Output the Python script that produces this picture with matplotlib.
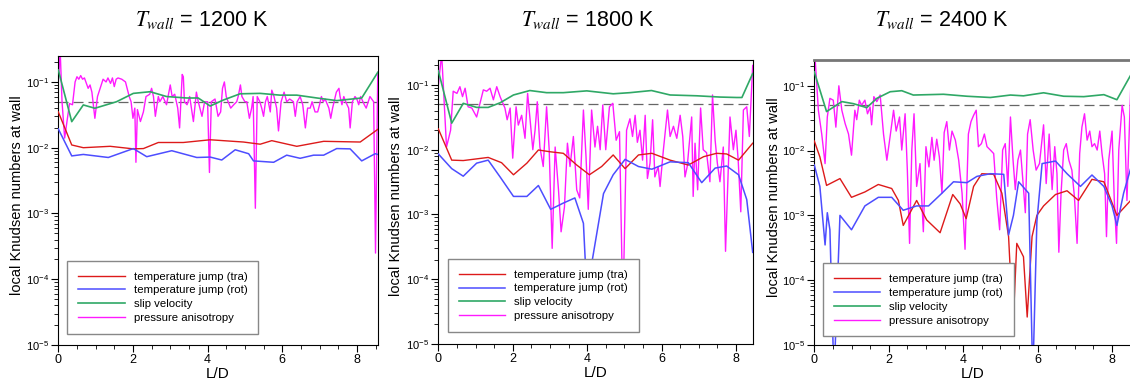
import numpy as np
import matplotlib
matplotlib.use('Agg')
import matplotlib.pyplot as plt
from matplotlib.ticker import LogLocator, MultipleLocator

plt.rcParams['font.family'] = ['Liberation Sans', 'DejaVu Sans']
plt.rcParams['mathtext.fontset'] = 'stix'

# ---- T_wall = 1200 K ----
tra_x_1200 = [0.0, 0.36, 0.67, 1.39, 2.01, 2.28, 2.68, 3.35, 4.07, 4.96, 5.41, 5.72, 6.39, 7.11, 8.09, 8.56]
tra_y_1200 = [0.035, 0.011, 0.010, 0.0105, 0.0096, 0.0097, 0.012, 0.012, 0.0132, 0.0122, 0.0113, 0.0128, 0.0105, 0.0125, 0.0122, 0.019]
rot_x_1200 = [0.0, 0.36, 0.67, 1.34, 2.01, 2.37, 3.04, 3.71, 4.07, 4.38, 4.74, 5.10, 5.23, 5.77, 6.12, 6.48, 6.84, 7.11, 7.46, 7.82, 8.13, 8.49, 8.56]
rot_y_1200 = [0.0193, 0.0075, 0.0079, 0.0071, 0.0097, 0.0073, 0.009, 0.0071, 0.0072, 0.0065, 0.0093, 0.0081, 0.0063, 0.006, 0.0077, 0.0069, 0.0077, 0.0077, 0.0097, 0.0096, 0.0063, 0.0081, 0.0079]
slip_x_1200 = [0.0, 0.36, 0.67, 0.98, 1.56, 2.01, 2.46, 2.9, 3.44, 3.75, 4.07, 4.42, 4.87, 5.41, 5.94, 6.39, 6.93, 7.46, 8.13, 8.56]
slip_y_1200 = [0.152, 0.0249, 0.0447, 0.0398, 0.050, 0.067, 0.071, 0.060, 0.057, 0.057, 0.043, 0.053, 0.066, 0.067, 0.063, 0.063, 0.057, 0.052, 0.057, 0.14]
aniso_x_1200 = [0.0, 0.05, 0.1, 0.17, 0.3, 0.38, 0.45, 0.5, 0.55, 0.6, 0.65, 0.7, 0.8, 0.85, 0.9, 0.98,
                1.05, 1.15, 1.2, 1.28, 1.33, 1.4, 1.45, 1.5, 1.55, 1.6, 1.7, 1.8, 1.9, 1.95, 2.0, 2.05,
                2.08, 2.12, 2.2, 2.28, 2.35, 2.45, 2.5, 2.55, 2.6, 2.68, 2.72, 2.8, 2.9, 3.0, 3.05, 3.12,
                3.2, 3.25, 3.32, 3.35, 3.38, 3.45, 3.52, 3.58, 3.62, 3.7, 3.75, 3.85, 3.92, 4.0, 4.05, 4.1,
                4.2, 4.28, 4.35, 4.4, 4.45, 4.5, 4.55, 4.62, 4.7, 4.78, 4.82, 4.88, 4.92, 5.0, 5.05, 5.12,
                5.18, 5.22, 5.28, 5.33, 5.4, 5.45, 5.5, 5.55, 5.6, 5.68, 5.72, 5.78, 5.85, 5.9, 5.97, 6.05,
                6.12, 6.2, 6.3, 6.35, 6.4, 6.48, 6.55, 6.62, 6.68, 6.75, 6.8, 6.88, 6.95, 7.0, 7.05, 7.1,
                7.15, 7.25, 7.3, 7.35, 7.45, 7.52, 7.55, 7.6, 7.65, 7.7, 7.78, 7.82, 7.88, 7.95, 8.0, 8.05,
                8.1, 8.2, 8.25, 8.35, 8.45, 8.5, 8.56]
aniso_y_1200 = [0.1, 0.3, 0.05, 0.014, 0.047, 0.045, 0.1, 0.12, 0.11, 0.125, 0.11, 0.115, 0.08, 0.09, 0.07, 0.028,
                0.06, 0.09, 0.11, 0.1, 0.115, 0.095, 0.115, 0.085, 0.11, 0.115, 0.11, 0.1, 0.06, 0.05, 0.028, 0.04,
                0.006, 0.038, 0.025, 0.035, 0.06, 0.065, 0.08, 0.06, 0.03, 0.06, 0.05, 0.06, 0.045, 0.09, 0.06, 0.065,
                0.04, 0.02, 0.13, 0.12, 0.05, 0.045, 0.06, 0.035, 0.025, 0.07, 0.05, 0.03, 0.05, 0.05, 0.0042, 0.05,
                0.055, 0.03, 0.035, 0.08, 0.1, 0.06, 0.05, 0.04, 0.045, 0.05, 0.06, 0.09, 0.06, 0.05, 0.05, 0.028,
                0.04, 0.06, 0.0012, 0.06, 0.05, 0.04, 0.03, 0.05, 0.06, 0.035, 0.075, 0.06, 0.04, 0.018, 0.05, 0.07,
                0.05, 0.055, 0.05, 0.03, 0.05, 0.06, 0.045, 0.02, 0.04, 0.04, 0.05, 0.035, 0.035, 0.045, 0.06, 0.05,
                0.055, 0.04, 0.028, 0.04, 0.07, 0.08, 0.06, 0.045, 0.06, 0.05, 0.04, 0.02, 0.05, 0.06, 0.055, 0.045,
                0.06, 0.045, 0.04, 0.06, 0.05, 0.00025, 0.14]

# ---- T_wall = 1800 K ----
tra_x_1800 = [0.0, 0.36, 0.67, 1.34, 1.7, 2.02, 2.38, 2.69, 3.0, 3.36, 3.72, 4.06, 4.39, 4.7, 5.02, 5.38, 5.74, 6.23, 6.72, 7.13, 7.48, 7.75, 8.07, 8.45]
tra_y_1800 = [0.021, 0.0069, 0.0068, 0.0076, 0.0063, 0.0041, 0.0062, 0.0099, 0.0093, 0.0088, 0.0058, 0.0041, 0.0055, 0.0083, 0.0051, 0.0083, 0.0088, 0.0069, 0.0058, 0.0078, 0.0088, 0.0086, 0.0069, 0.0126]
rot_x_1800 = [0.0, 0.36, 0.67, 1.03, 1.34, 1.66, 2.02, 2.38, 2.69, 3.02, 3.36, 3.67, 3.9, 4.0, 4.06, 4.14, 4.44, 4.7, 5.02, 5.38, 5.74, 6.23, 6.72, 7.08, 7.44, 7.75, 8.07, 8.29, 8.45]
rot_y_1800 = [0.0086, 0.0051, 0.0039, 0.0062, 0.0069, 0.0038, 0.0019, 0.0019, 0.0028, 0.0012, 0.0015, 0.0018, 0.00073, 0.00005, 0.00003, 0.0002, 0.0021, 0.0041, 0.0071, 0.0055, 0.005, 0.0065, 0.0063, 0.0031, 0.0052, 0.0056, 0.0041, 0.0017, 0.00026]
slip_x_1800 = [0.0, 0.36, 0.67, 1.03, 1.34, 1.66, 2.02, 2.46, 2.91, 3.36, 3.99, 4.7, 5.15, 5.73, 6.23, 6.95, 7.57, 8.02, 8.16, 8.45]
slip_y_1800 = [0.166, 0.0257, 0.052, 0.045, 0.045, 0.053, 0.070, 0.082, 0.076, 0.076, 0.081, 0.073, 0.076, 0.082, 0.070, 0.068, 0.065, 0.064, 0.064, 0.15]
aniso_x_1800 = [0.0, 0.09, 0.22, 0.33, 0.4, 0.5, 0.58, 0.65, 0.72, 0.8, 0.9, 1.03, 1.12, 1.21, 1.3, 1.39,
                1.48, 1.57, 1.66, 1.79, 1.85, 1.93, 2.0, 2.09, 2.15, 2.24, 2.33, 2.4, 2.46, 2.54, 2.6, 2.66,
                2.73, 2.82, 2.91, 2.98, 3.06, 3.14, 3.23, 3.3, 3.39, 3.47, 3.54, 3.63, 3.72, 3.8, 3.9, 3.97,
                4.03, 4.12, 4.21, 4.28, 4.35, 4.42, 4.5, 4.6, 4.69, 4.78, 4.87, 4.96, 5.06, 5.15, 5.22, 5.29,
                5.35, 5.42, 5.49, 5.56, 5.62, 5.69, 5.76, 5.82, 5.91, 5.96, 6.05, 6.16, 6.23, 6.32, 6.41, 6.5,
                6.57, 6.63, 6.69, 6.81, 6.85, 6.9, 6.97, 7.05, 7.12, 7.21, 7.3, 7.37, 7.44, 7.5, 7.57, 7.66,
                7.72, 7.84, 7.93, 8.0, 8.06, 8.13, 8.2, 8.29, 8.36, 8.45]
aniso_y_1800 = [0.1, 0.3, 0.011, 0.02, 0.08, 0.074, 0.094, 0.066, 0.089, 0.046, 0.044, 0.032, 0.052, 0.084, 0.08, 0.089,
                0.059, 0.094, 0.066, 0.044, 0.029, 0.044, 0.0074, 0.046, 0.024, 0.034, 0.015, 0.074, 0.032, 0.01, 0.02, 0.055,
                0.011, 0.0055, 0.046, 0.01, 0.0003, 0.011, 0.0024, 0.00054, 0.0013, 0.0126, 0.0055, 0.016, 0.0024, 0.0018, 0.041, 0.0078,
                0.0012, 0.041, 0.011, 0.023, 0.01, 0.049, 0.01, 0.046, 0.052, 0.014, 0.019, 0.00003, 0.02, 0.03, 0.016, 0.034,
                0.013, 0.02, 0.0069, 0.034, 0.0036, 0.0062, 0.029, 0.0038, 0.0055, 0.0027, 0.01, 0.041, 0.016, 0.023, 0.015, 0.034,
                0.016, 0.0038, 0.0055, 0.032, 0.0019, 0.0126, 0.0024, 0.044, 0.01, 0.009, 0.0032, 0.07, 0.0141, 0.0062, 0.0032, 0.011,
                0.00027, 0.032, 0.01, 0.02, 0.0069, 0.0011, 0.041, 0.046, 0.016, 0.2]

# ---- T_wall = 2400 K ----
tra_x_2400 = [0.0, 0.15, 0.33, 0.69, 1.0, 1.36, 1.72, 2.08, 2.26, 2.39, 2.75, 3.02, 3.38, 3.72, 3.92, 4.08, 4.28, 4.5, 4.82,
              5.04, 5.22, 5.34, 5.44, 5.62, 5.72, 5.85, 5.98, 6.16, 6.48, 6.79, 7.1, 7.46, 7.78, 8.13, 8.5]
tra_y_2400 = [0.0141, 0.008, 0.0029, 0.0037, 0.0019, 0.0023, 0.003, 0.0026, 0.0017, 0.0007, 0.0017, 0.00085, 0.00054, 0.0021, 0.0015, 0.00089, 0.0028, 0.0044, 0.0043,
              0.0022, 0.00047, 0.000019, 0.00037, 0.00023, 0.000027, 0.00047, 0.001, 0.0014, 0.0021, 0.0024, 0.0017, 0.0036, 0.0033, 0.001, 0.0017]
rot_x_2400 = [0.0, 0.15, 0.29, 0.35, 0.42, 0.53, 0.69, 1.0, 1.36, 1.72, 2.08, 2.39, 2.75, 3.07, 3.43, 3.74, 4.1, 4.37, 4.73,
              5.09, 5.22, 5.35, 5.49, 5.76, 5.87, 5.98, 6.12, 6.48, 6.79, 7.15, 7.46, 7.78, 8.0, 8.13, 8.31, 8.5]
rot_y_2400 = [0.006, 0.0028, 0.00035, 0.0011, 0.0006, 0.000003, 0.001, 0.0006, 0.0014, 0.0019, 0.0019, 0.0012, 0.0014, 0.0014, 0.0022, 0.0033, 0.0032, 0.004, 0.0044,
              0.0043, 0.0005, 0.001, 0.0033, 0.0022, 0.000003, 0.0008, 0.0063, 0.0069, 0.0044, 0.0028, 0.0042, 0.0028, 0.0014, 0.0007, 0.0022, 0.0053]
slip_x_2400 = [0.0, 0.33, 0.74, 1.05, 1.41, 1.68, 2.04, 2.35, 2.66, 3.47, 4.1, 4.73, 5.27, 5.62, 6.16, 6.7, 7.24, 7.78, 8.13, 8.5]
slip_y_2400 = [0.164, 0.040, 0.057, 0.053, 0.046, 0.064, 0.081, 0.084, 0.072, 0.074, 0.069, 0.066, 0.072, 0.07, 0.078, 0.069, 0.068, 0.073, 0.061, 0.146]
aniso_x_2400 = [0.02, 0.11, 0.2, 0.29, 0.35, 0.42, 0.51, 0.58, 0.66, 0.74, 0.83, 0.92, 1.0, 1.09, 1.14, 1.21,
                1.27, 1.36, 1.43, 1.5, 1.54, 1.6, 1.68, 1.77, 1.86, 1.95, 2.04, 2.13, 2.2, 2.29, 2.35, 2.44,
                2.5, 2.56, 2.62, 2.68, 2.75, 2.84, 2.93, 3.0, 3.08, 3.16, 3.22, 3.29, 3.36, 3.43, 3.49, 3.56,
                3.63, 3.7, 3.79, 3.88, 3.97, 4.05, 4.14, 4.21, 4.28, 4.35, 4.41, 4.49, 4.57, 4.64, 4.73, 4.82,
                4.9, 4.98, 5.06, 5.13, 5.2, 5.27, 5.34, 5.4, 5.47, 5.54, 5.61, 5.67, 5.73, 5.8, 5.88, 5.96,
                6.05, 6.16, 6.23, 6.31, 6.39, 6.46, 6.52, 6.57, 6.63, 6.7, 6.77, 6.84, 6.92, 6.99, 7.06, 7.13,
                7.19, 7.26, 7.33, 7.4, 7.46, 7.53, 7.6, 7.67, 7.73, 7.8, 7.85, 7.91, 8.0, 8.06, 8.12, 8.18,
                8.27, 8.33, 8.4, 8.5]
aniso_y_2400 = [0.28, 0.042, 0.018, 0.0063, 0.033, 0.064, 0.06, 0.023, 0.1, 0.042, 0.026, 0.018, 0.0085, 0.042, 0.03, 0.06,
                0.05, 0.06, 0.037, 0.047, 0.025, 0.068, 0.057, 0.072, 0.018, 0.0071, 0.017, 0.042, 0.02, 0.033, 0.0102, 0.037,
                0.005, 0.00037, 0.0102, 0.037, 0.0028, 0.0063, 0.00056, 0.0115, 0.0056, 0.016, 0.0071, 0.015, 0.008, 0.0022, 0.019, 0.028,
                0.0102, 0.02, 0.0145, 0.0071, 0.0022, 0.0003, 0.018, 0.028, 0.035, 0.042, 0.0115, 0.0128, 0.018, 0.0115, 0.0102, 0.009,
                0.0019, 0.0006, 0.0102, 0.0128, 0.0028, 0.033, 0.0071, 0.0025, 0.0071, 0.0102, 0.0031, 0.0011, 0.018, 0.03, 0.0102, 0.005,
                0.0063, 0.025, 0.0031, 0.018, 0.0025, 0.0115, 0.0044, 0.00027, 0.0022, 0.0102, 0.0128, 0.0071, 0.005, 0.0019, 0.00037, 0.009,
                0.023, 0.037, 0.0145, 0.02, 0.0115, 0.0128, 0.0102, 0.02, 0.009, 0.0044, 0.00047, 0.0071, 0.02, 0.0017, 0.00037, 0.0102,
                0.05, 0.033, 0.0017, 0.09]

titles = ['1200 K', '1800 K', '2400 K']
threshold = 0.05

panels = [
    (tra_x_1200, tra_y_1200, rot_x_1200, rot_y_1200, slip_x_1200, slip_y_1200, aniso_x_1200, aniso_y_1200),
    (tra_x_1800, tra_y_1800, rot_x_1800, rot_y_1800, slip_x_1800, slip_y_1800, aniso_x_1800, aniso_y_1800),
    (tra_x_2400, tra_y_2400, rot_x_2400, rot_y_2400, slip_x_2400, slip_y_2400, aniso_x_2400, aniso_y_2400),
]

# axes placement (figure fractions) and limits
rects = [[0.0516, 0.0969, 0.2827, 0.7565],
         [0.3879, 0.0995, 0.2782, 0.7435],
         [0.7206, 0.0969, 0.2800, 0.7460]]
xmax = [8.56, 8.45, 8.5]
ymax = [0.248, 0.243, 0.25]
title_x = [202, 588, 942]
ylab_x = [-0.108, -0.112, -0.106]
leg_anchor = [(0.028, 0.038), (0.030, 0.042), (0.027, 0.030)]

fig = plt.figure(figsize=(11.3, 3.82), dpi=100)

for i, p in enumerate(panels):
    ax = fig.add_axes(rects[i])
    tx, ty, rx, ry, sx, sy, ax_, ay = p
    ax.axhline(threshold, color='#666666', lw=0.9, dashes=(8, 4), zorder=1)
    ax.plot(tx, ty, color='#dd1a1a', lw=1.0, label='temperature jump (tra)', zorder=3)
    ax.plot(rx, ry, color='#4d4dff', lw=1.1, label='temperature jump (rot)', zorder=3)
    ax.plot(sx, sy, color='#2fa866', lw=1.2, label='slip velocity', zorder=3)
    ax.plot(ax_, ay, color='#ff1aff', lw=1.0, label='pressure anisotropy', zorder=2)
    ax.set_yscale('log')
    ax.set_xlim(0, xmax[i])
    ax.set_ylim(1e-5, ymax[i])
    ax.xaxis.set_major_locator(MultipleLocator(2))
    ax.xaxis.set_minor_locator(MultipleLocator(0.5))
    ax.yaxis.set_major_locator(LogLocator(base=10, numticks=10))
    ax.yaxis.set_minor_locator(LogLocator(base=10, subs=np.arange(2, 10), numticks=10))
    ax.tick_params(which='both', direction='out', top=False, right=False, pad=1.5)
    ax.tick_params(axis='x', labelsize=9)
    ax.tick_params(axis='y', labelsize=8)
    ax.tick_params(which='major', length=5, width=0.8)
    ax.tick_params(which='minor', length=3, width=0.6)
    ax.set_xlabel('L/D', fontsize=11, labelpad=1)
    ax.set_ylabel('local Knudsen numbers at wall', fontsize=10.5)
    ax.yaxis.set_label_coords(ylab_x[i], 0.52)
    for s in ax.spines.values():
        s.set_linewidth(0.8)
    if i == 2:
        ax.spines['right'].set_visible(False)
        ax.spines['top'].set_color('#777777')
        ax.spines['top'].set_linewidth(2)
    leg = ax.legend(loc='lower left', bbox_to_anchor=leg_anchor[i], fontsize=8.2,
                    handlelength=4.1, handletextpad=0.8, labelspacing=0.34,
                    borderpad=0.95, fancybox=False, framealpha=1, edgecolor='#888888',
                    borderaxespad=0)
    leg.get_frame().set_linewidth(1.0)
    fig.text(title_x[i] / 1130, 1 - 20 / 382, r'$T_{wall}$ = ' + titles[i],
             ha='center', va='center', fontsize=15.5)

plt.savefig('out.png', dpi=100)
